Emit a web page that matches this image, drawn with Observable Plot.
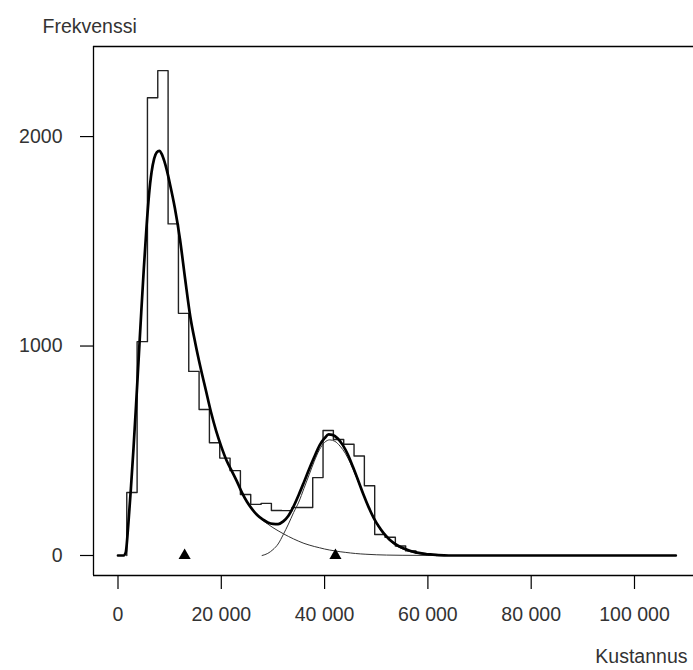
<!DOCTYPE html>
<html><head><meta charset="utf-8">
<script src="https://cdn.jsdelivr.net/npm/d3@7"></script>
<script src="https://cdn.jsdelivr.net/npm/@observablehq/plot@0.6"></script>
<style>body{margin:0;background:#fff}</style>
</head><body><div id="chart"></div>
<script>
// Histogram (bin start, counts); last bin ends at binEnd
const binStart = [1700, 3700, 5700, 7700, 9700, 11700, 13700, 15700, 17700, 19700, 21700, 23700, 25700, 27700, 29700, 31700, 33700, 35700, 37700, 39700, 41700, 43700, 45700, 47700, 49700, 51700, 53700, 55700, 57700, 59700];
const binCount = [301, 1021, 2185, 2315, 1583, 1156, 879, 697, 538, 465, 405, 291, 244, 249, 215, 214, 229, 229, 372, 597, 554, 531, 475, 333, 100, 87, 45, 22, 10, 4];
const binEnd = 61700;

// Fitted mixture (thick)
const mixX = [0, 1100, 1500, 2000, 2500, 3000, 3500, 4000, 4500, 5000, 5500, 6000, 6500, 7000, 7500, 8000, 8500, 9000, 9500, 10000, 11000, 12000, 13000, 14000, 15000, 16000, 17000, 18000, 19000, 20000, 21000, 22000, 23000, 24000, 25000, 26000, 27000, 28000, 29000, 30000, 31000, 32000, 33000, 34000, 35000, 36000, 37000, 38000, 39000, 40000, 40800, 41500, 42500, 43500, 44500, 45500, 46500, 47500, 48500, 49500, 50500, 51500, 52500, 53500, 54500, 55500, 56500, 57500, 58500, 59500, 60500, 62000, 64000, 108000];
const mixY = [0, 0, 15, 150, 320, 510, 720, 940, 1160, 1370, 1560, 1720, 1830, 1895, 1925, 1932, 1915, 1880, 1835, 1780, 1660, 1510, 1320, 1140, 1010, 895, 790, 685, 595, 520, 455, 405, 355, 300, 255, 220, 192, 172, 158, 151, 150, 163, 190, 235, 290, 350, 412, 470, 525, 560, 578, 576, 560, 528, 482, 422, 358, 292, 232, 180, 138, 104, 78, 58, 43, 32, 23, 16, 11, 7, 5, 2, 0, 0];

// Component 1 (thin)
const comp1X = [0, 1100, 1500, 2000, 2500, 3000, 3500, 4000, 4500, 5000, 5500, 6000, 6500, 7000, 7500, 8000, 8500, 9000, 9500, 10000, 11000, 12000, 13000, 14000, 15000, 16000, 17000, 18000, 19000, 20000, 21000, 22000, 23000, 24000, 25000, 26000, 27000, 28000, 29000, 30000, 31000, 32000, 33000, 34000, 35000, 36000, 37000, 38000, 39000, 40000, 41000, 42000, 43000, 44000, 45000, 46000, 47000, 48000, 50000, 52000, 55000, 60000, 65000, 108000];
const comp1Y = [0, 0, 15, 150, 320, 510, 720, 940, 1160, 1370, 1560, 1720, 1830, 1895, 1925, 1932, 1915, 1880, 1835, 1780, 1660, 1510, 1320, 1140, 1010, 895, 790, 685, 595, 520, 455, 405, 355, 300, 255, 220, 192, 168, 150, 133, 118, 104, 91, 79, 68, 58, 50, 43, 37, 31, 26, 22, 18, 15, 12, 9.5, 7.5, 6, 3.5, 2, 1, 0.3, 0, 0];

// Component 2 (thin)
const comp2X = [27900, 29000, 30000, 31000, 32000, 33000, 34000, 35000, 36000, 37000, 38000, 39000, 40000, 41000, 42000, 43000, 44000, 45000, 46000, 47000, 48000, 49000, 50000, 51000, 52000, 53000, 54000, 55000, 56000, 57000, 58000, 59000, 60000, 62000, 64000, 108000];
const comp2Y = [0, 10, 28, 55, 100, 150, 205, 255, 320, 385, 450, 505, 540, 552, 545, 522, 488, 440, 383, 322, 262, 205, 155, 115, 85, 62, 45, 32, 22, 15, 10, 6, 4, 1.5, 0, 0];

// Component means (triangles)
const meanX = [12900, 42100];

// Ticks
const xTicks = [0, 20000, 40000, 60000, 80000, 100000];
const xTickLabels = ["0", "20 000", "40 000", "60 000", "80 000", "100 000"];
const yTicks = [0, 1000, 2000];
const yTickLabels = ["0", "1000", "2000"];
const yTitle = "Frekvenssi";
const xTitle = "Kustannus";

const histPts = [{x: binStart[0], y: 0}]
  .concat(binStart.map((s, i) => ({x: s, y: binCount[i]})))
  .concat([{x: binEnd, y: 0}]);
const mix = mixX.map((x, i) => ({x, y: mixY[i]}));
const c1 = comp1X.map((x, i) => ({x, y: comp1Y[i]}));
const c2 = comp2X.map((x, i) => ({x, y: comp2Y[i]}));

const X0 = -4743, X1 = 111424, Y0 = -95.5, Y1 = 2430;

const chart = Plot.plot({
  width: 693, height: 670,
  marginLeft: 93, marginTop: 46, marginBottom: 95, marginRight: 0,
  style: {fontFamily: "'Liberation Sans', Arial, sans-serif", fontSize: "19.5px", color: "#333", background: "#fff"},
  x: {domain: [X0, X1], axis: null},
  y: {domain: [Y0, Y1], axis: null},
  marks: [
    Plot.axisY(yTicks, {tickSize: 13, tickPadding: 18, tickFormat: d => yTickLabels[yTicks.indexOf(d)], label: null, stroke: "#000", strokeWidth: 1.2}),
    Plot.axisX(xTicks, {tickSize: 14, tickPadding: 18, tickFormat: d => xTickLabels[xTicks.indexOf(d)], label: null, stroke: "#000", strokeWidth: 1.2}),
    Plot.ruleY([Y1], {stroke: "#000", strokeWidth: 1.3}),
    Plot.ruleY([Y0], {stroke: "#000", strokeWidth: 1.3}),
    Plot.ruleX([X0], {stroke: "#000", strokeWidth: 1.3}),
    Plot.line(histPts, {x: "x", y: "y", curve: "step-after", stroke: "#222", strokeWidth: 1.4}),
    Plot.line(c1, {x: "x", y: "y", curve: "monotone-x", stroke: "#333", strokeWidth: 1}),
    Plot.line(c2, {x: "x", y: "y", curve: "monotone-x", stroke: "#333", strokeWidth: 1}),
    Plot.line(mix, {x: "x", y: "y", curve: "monotone-x", stroke: "#000", strokeWidth: 2.7}),
    Plot.dot(meanX, {x: d => d, y: 0, symbol: "triangle", r: 4.5, fill: "#000", stroke: "none"}),
    Plot.text([yTitle], {frameAnchor: "top-left", text: d => d, textAnchor: "start", lineAnchor: "bottom", dx: -51, dy: -14, fill: "#333"}),
    Plot.text([xTitle], {frameAnchor: "bottom-right", text: d => d, textAnchor: "end", lineAnchor: "bottom", dx: -6, dy: 87, fill: "#333"})
  ]
});
document.getElementById("chart").appendChild(chart);
</script>
</body></html>
